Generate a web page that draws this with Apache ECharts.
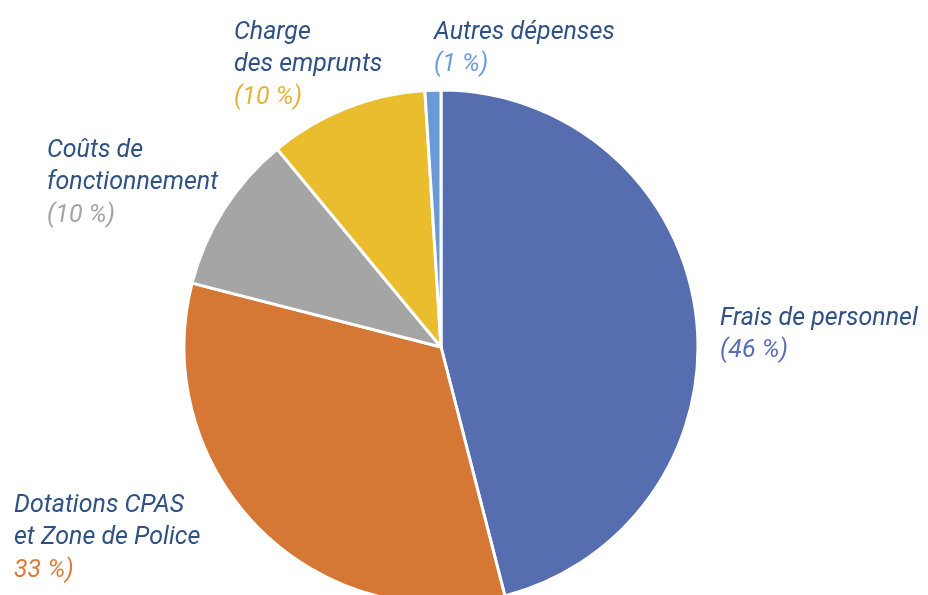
<!DOCTYPE html>
<html>
<head>
<meta charset="utf-8">
<script src="https://cdn.jsdelivr.net/npm/echarts@6/dist/echarts.min.js"></script>
<style>
  html, body { margin: 0; padding: 0; background: #fff; }
  #main { width: 928px; height: 595px; }
</style>
</head>
<body>
<div id="main"></div>
<script>
var categories = ['Frais de personnel', 'Dotations CPAS\net Zone de Police', 'Coûts de\nfonctionnement', 'Charge\ndes emprunts', 'Autres dépenses'];
var values = [46, 33, 10, 10, 1];
var percentLabels = ['(46 %)', '33 %)', '(10 %)', '(10 %)', '(1 %)'];

var sliceColors = ['#566db0', '#d57735', '#a5a5a5', '#e9bd2e', '#6a9ad6'];
var pctColors = ['#5a6fb3', '#dc7c3c', '#a3a3a3', '#e3b23a', '#6f9ad8'];
// top-left corner of each label block
var labelPos = [[720, 302], [14, 489], [47, 134], [234, 16], [434, 16]];

var chartDom = document.getElementById('main');
var myChart = echarts.init(chartDom);

var rich = {};
pctColors.forEach(function (c, i) {
  rich['p' + i] = { color: c, fontSize: 25, fontStyle: 'italic', fontFamily: 'Roboto', lineHeight: 32.5 };
});
rich.n = { color: '#2f5183', fontSize: 25, fontStyle: 'italic', fontFamily: 'Roboto', lineHeight: 32.5 };

var option = {
  animation: false,
  series: [
    {
      type: 'pie',
      center: [441, 347],
      radius: 257,
      startAngle: 90,
      clockwise: true,
      itemStyle: {
        borderColor: '#fff',
        borderWidth: 3
      },
      label: {
        show: true,
        overflow: 'none',
        formatter: function (p) {
          var lines = p.name.split('\n').map(function (l) { return '{n|' + l + '}'; });
          lines.push('{p' + p.dataIndex + '|' + percentLabels[p.dataIndex] + '}');
          return lines.join('\n');
        },
        rich: rich
      },
      labelLine: { show: false },
      labelLayout: function (params) {
        var pos = labelPos[params.dataIndex];
        return { x: pos[0], y: pos[1], align: 'left', verticalAlign: 'top' };
      },
      emphasis: { disabled: true },
      data: categories.map(function (name, i) {
        return { name: name, value: values[i], itemStyle: { color: sliceColors[i] } };
      })
    }
  ]
};

option && myChart.setOption(option);
</script>
</body>
</html>
